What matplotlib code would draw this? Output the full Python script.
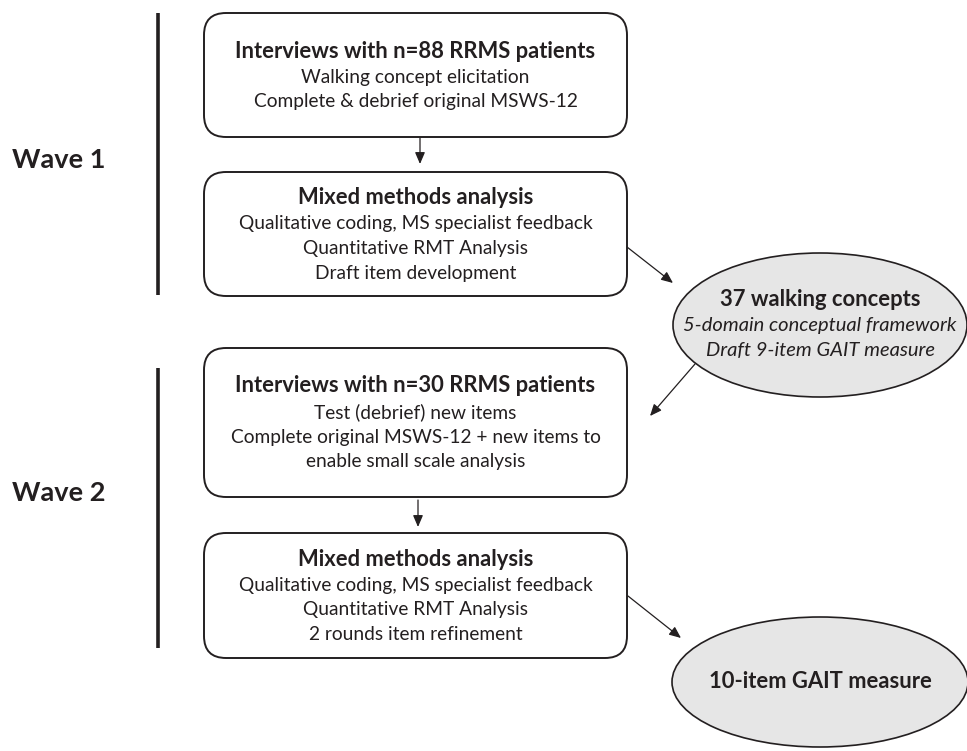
import matplotlib.pyplot as plt
from matplotlib.patches import FancyBboxPatch, Ellipse

plt.rcParams['font.family'] = ['Lato', 'DejaVu Sans']

ink = '#231f20'

wave_labels = ['Wave 1', 'Wave 2']

box_titles = ['Interviews with n=88 RRMS patients',
              'Mixed methods analysis',
              'Interviews with n=30 RRMS patients',
              'Mixed methods analysis']
box_lines = [['Walking concept elicitation',
              'Complete & debrief original MSWS-12'],
             ['Qualitative coding, MS specialist feedback',
              'Quantitative RMT Analysis',
              'Draft item development'],
             ['Test (debrief) new items',
              'Complete original MSWS-12 + new items to',
              'enable small scale analysis'],
             ['Qualitative coding, MS specialist feedback',
              'Quantitative RMT Analysis',
              '2 rounds item refinement']]

oval_titles = ['37 walking concepts', '10-item GAIT measure']
oval_lines = [['5-domain conceptual framework', 'Draft 9-item GAIT measure'],
              []]

# layout (pixel coordinates, y downwards)
box_y = [(13, 137), (172, 296), (348, 497), (533, 658)]
box_x = (204, 627)
oval_geom = [(820, 325, 294, 144), (820, 682, 296, 130)]
wave_y = [(13, 295), (368, 648)]
wave_text_y = [160, 493]
arrows = [((420, 138), (420, 164)), ((418, 500), (418, 527)),
          ((627, 247), (673, 283)), ((695, 364), (650, 416)),
          ((628, 596), (681, 638))]

fig = plt.figure(figsize=(9.67, 7.51), dpi=100)
ax = fig.add_axes([0, 0, 1, 1])
ax.set_xlim(0, 967)
ax.set_ylim(751, 0)
ax.axis('off')

lh = 25
for (y0, y1), title, lines in zip(box_y, box_titles, box_lines):
    p = FancyBboxPatch((box_x[0], y0), box_x[1] - box_x[0], y1 - y0,
                       boxstyle='round,pad=0,rounding_size=22',
                       fc='white', ec=ink, lw=1.4)
    ax.add_patch(p)
    n = len(lines) + 1
    cy = (y0 + y1) / 2 + 2
    cx = (box_x[0] + box_x[1]) / 2
    ys = [cy + (i - (n - 1) / 2) * lh for i in range(n)]
    ax.text(cx, ys[0] - 1, title, ha='center', va='center', fontsize=15.8,
            fontweight='bold', color=ink)
    for yy, t in zip(ys[1:], lines):
        ax.text(cx, yy, t, ha='center', va='center', fontsize=13.8, color=ink)

for (cx, cy, w, h), title, lines in zip(oval_geom, oval_titles, oval_lines):
    ax.add_patch(Ellipse((cx, cy), w, h, fc='#e6e6e6', ec=ink, lw=1.2))
    n = len(lines) + 1
    ys = [cy + (i - (n - 1) / 2) * lh for i in range(n)]
    ax.text(cx, ys[0], title, ha='center', va='center', fontsize=15.8,
            fontweight='bold', color=ink)
    for yy, t in zip(ys[1:], lines):
        ax.text(cx, yy, t, ha='center', va='center', fontsize=14.5,
                style='italic', color=ink)

for (y0, y1), ty, lab in zip(wave_y, wave_text_y, wave_labels):
    ax.plot([158, 158], [y0, y1], color=ink, lw=2.6, solid_capstyle='butt')
    ax.text(12, ty, lab, ha='left', va='center', fontsize=19.5,
            fontweight='bold', color=ink)

for start, end in arrows:
    ax.annotate('', xy=end, xytext=start,
                arrowprops=dict(arrowstyle='-|>,head_length=0.7,head_width=0.3',
                                color=ink, lw=0.9, shrinkA=0, shrinkB=0))

fig.savefig('out.png', dpi=100)
